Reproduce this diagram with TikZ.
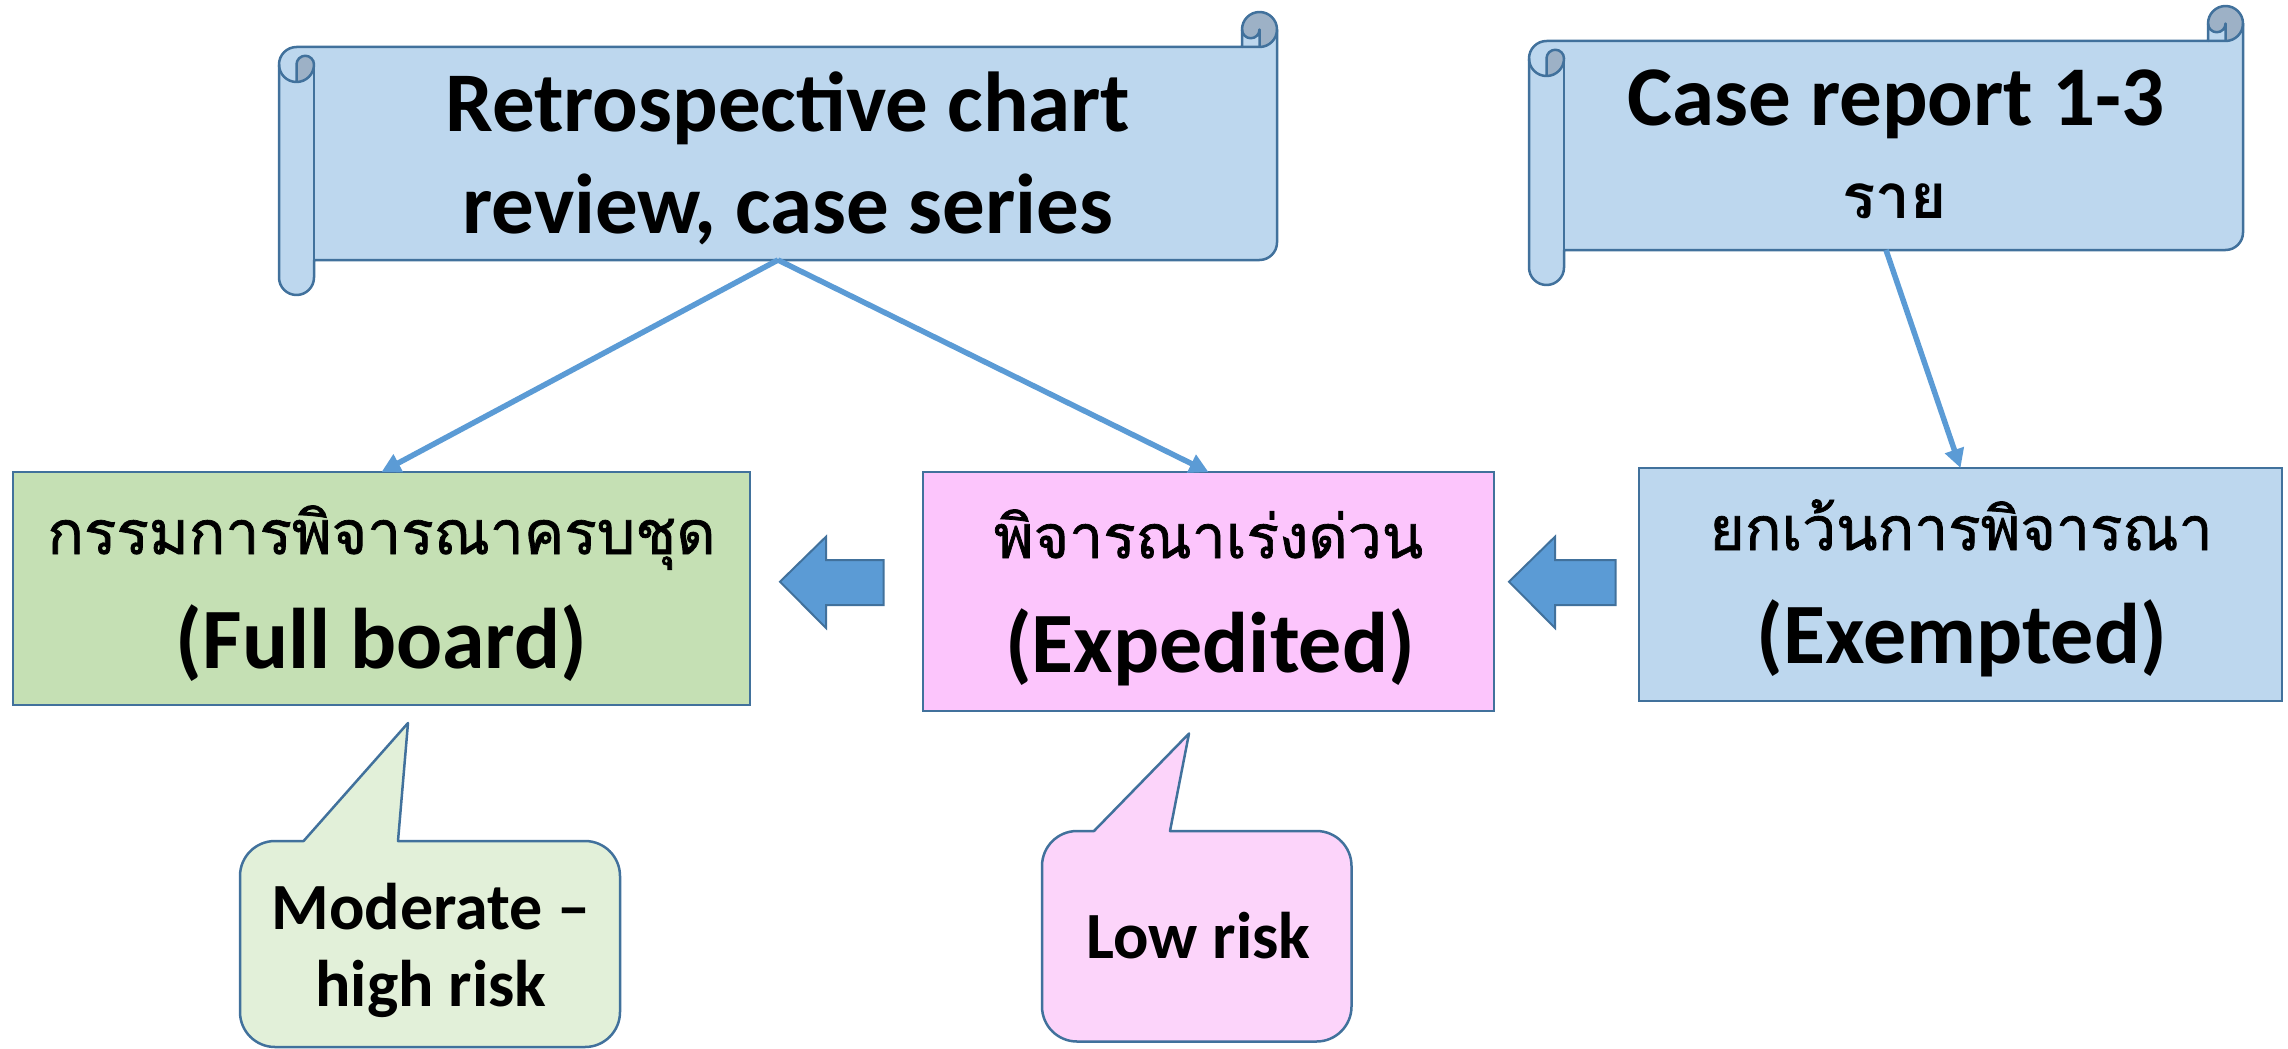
\documentclass[tikz,border=0pt]{standalone}
\usepackage{fontspec}
\setmainfont{Carlito}
\newfontfamily\thaifont[Script=Thai,FakeBold=1.2]{Loma}
\newfontfamily\thaibold[Script=Thai]{Loma}
\usetikzlibrary{arrows.meta}
\definecolor{bluefill}{HTML}{BDD7EE}
\definecolor{edgeblue}{HTML}{41719C}
\definecolor{accent}{HTML}{5B9BD5}
\definecolor{curldark}{HTML}{9DB1C6}
\definecolor{fbgreen}{HTML}{C5E0B4}
\definecolor{lightgreen}{HTML}{E2F0D9}
\definecolor{exppink}{HTML}{FCC5FC}
\definecolor{lightpink}{HTML}{FCD4FA}
\tikzset{
  scrfill/.style={fill=bluefill},
  scrdark/.style={fill=curldark},
  scredge/.style={draw=edgeblue,line width=2.5pt,line join=round},
  boxnode/.style={draw=edgeblue,line width=2.5pt,inner sep=0pt,outer sep=0pt,rectangle},
  hollow/.style={inner sep=0pt,outer sep=0pt,rectangle},
  conn/.style={draw=accent,line width=5.5pt,-{Triangle[length=19pt,width=19pt]}},
  barrow/.style={fill=accent,draw=edgeblue,line width=2pt,line join=miter},
  callout/.style={draw=edgeblue,line width=2.5pt,line join=round},
  big/.style={font=\bfseries\fontsize{85}{100}\selectfont,inner sep=0pt,anchor=base},
  mid/.style={font=\bfseries\fontsize{86}{100}\selectfont,inner sep=0pt,anchor=base},
  small/.style={font=\bfseries\fontsize{66}{80}\selectfont,inner sep=0pt,anchor=base},
  thaitxt/.style={font=\thaifont\fontsize{60.5}{80}\selectfont,inner sep=0pt,anchor=base},
}
\newcommand\drawscroll[4]{%
\begin{scope}[shift={(#1,#2)}]
\pgfmathsetmacro\scrW{#3-#1}
\pgfmathsetmacro\scrH{#4-#2}
\pgfmathsetmacro\scrXa{\scrW-35}
\pgfmathsetmacro\scrXb{\scrW-17.5}
\pgfmathsetmacro\scrYa{\scrH-35}
\pgfmathsetmacro\scrYb{\scrH-17.5}
\pgfmathsetmacro\scrYc{\scrH-52.5}
\fill[scrfill] (\scrW,17.5) arc[start angle=0,end angle=90,radius=17.5]
  -- (\scrXb,17.5) arc[start angle=0,end angle=180,radius=8.75]
  -- (\scrXa,35) -- (17.5,35) arc[start angle=270,end angle=180,radius=17.5]
  -- (0,\scrYb) arc[start angle=180,end angle=0,radius=17.5]
  -- (35,\scrYa) -- (\scrXb,\scrYa) arc[start angle=90,end angle=0,radius=17.5] -- cycle;
\fill[scrdark] (17.5,70) arc[start angle=90,end angle=0,radius=17.5]
  arc[start angle=0,end angle=-180,radius=8.75] -- cycle;
\fill[scrdark] (\scrXb,35) arc[start angle=90,end angle=-180,radius=17.5]
  arc[start angle=180,end angle=0,radius=8.75] -- cycle;
\draw[scredge] (0,52.5) arc[start angle=180,end angle=270,radius=17.5]
  -- (\scrXa,35) -- (\scrXa,17.5) arc[start angle=180,end angle=360,radius=17.5]
  -- (\scrW,\scrYc) arc[start angle=0,end angle=90,radius=17.5]
  -- (35,\scrYa) -- (35,\scrYb) arc[start angle=0,end angle=180,radius=17.5] -- cycle;
\draw[scredge] (\scrXa,35) -- (\scrXb,35) arc[start angle=90,end angle=0,radius=17.5];
\draw[scredge] (\scrXb,35) -- (\scrXb,17.5) arc[start angle=0,end angle=180,radius=8.75];
\draw[scredge] (17.5,70) -- (17.5,52.5) arc[start angle=180,end angle=360,radius=8.75]
  arc[start angle=0,end angle=180,radius=17.5];
\draw[scredge] (35,52.5) -- (35,\scrYa);
\end{scope}}
\begin{document}
\begin{tikzpicture}[x=1pt,y=1pt,yscale=-1]
\useasboundingbox (0,0) rectangle (2288,1049);
% scrolls
\drawscroll{279}{12}{1277}{295}
\drawscroll{1529}{6}{2243}{285}
\node[hollow,minimum width=998pt,minimum height=213pt] (s1) at (778,153.5) {};
\node[hollow,minimum width=714pt,minimum height=209pt] (s2) at (1886,145.5) {};
\node[big] (s1a) at (788,131.7) {Retrospective chart};
\node[big] (s1b) at (788,233) {review, case series};
\node[big] (s2a) at (1896,125) {Case report 1-3};
\node[inner sep=0pt,anchor=base,font=\thaibold\bfseries\fontsize{62}{80}\selectfont] (s2b) at (1894.5,218) {ราย};
% boxes
\node[boxnode,fill=fbgreen,minimum width=737pt,minimum height=233pt] (fb) at (381.5,588.5) {};
\node[boxnode,fill=exppink,minimum width=571pt,minimum height=239pt] (exp) at (1208.5,591.5) {};
\node[boxnode,fill=bluefill,minimum width=643pt,minimum height=233pt] (exe) at (1960.5,584.5) {};
\node[thaitxt] (fbt) at (381.5,554) {กรรมการพิจารณาครบชุด};
\node[mid] (fbe) at (381.5,668.5) {(Full board)};
\node[thaitxt] (expt) at (1208.5,558) {พิจารณาเร่งด่วน};
\node[mid] (expe) at (1210,672) {(Expedited)};
\node[thaitxt] (exet) at (1961,550) {ยกเว้นการพิจารณา};
\node[mid] (exee) at (1962,663) {(Exempted)};
% connectors
\draw[conn] (s1.south) -- (fb.north);
\draw[conn] (s1.south) -- (exp.north);
\draw[conn] (s2.south) -- (exe.north);
% block arrows
\draw[barrow] (780,581.7) -- (826,536.7) -- (826,560) -- (883.5,560) -- (883.5,605) -- (826,605) -- (826,628) -- cycle;
\draw[barrow] (1509,581.7) -- (1555,536.7) -- (1555,560) -- (1615.5,560) -- (1615.5,605) -- (1555,605) -- (1555,628) -- cycle;
% callouts
\draw[callout,fill=lightgreen] (303.6,841) -- (408,723) -- (398,841) -- (585,841)
  arc[start angle=-90,end angle=0,radius=35] -- (620,1012)
  arc[start angle=0,end angle=90,radius=35] -- (275,1047)
  arc[start angle=90,end angle=180,radius=35] -- (240,876)
  arc[start angle=180,end angle=270,radius=35] -- cycle;
\draw[callout,fill=lightpink] (1094,831) -- (1189,733.5) -- (1170,831) -- (1316.5,831)
  arc[start angle=-90,end angle=0,radius=35] -- (1351.5,1006.5)
  arc[start angle=0,end angle=90,radius=35] -- (1077,1041.5)
  arc[start angle=90,end angle=180,radius=35] -- (1042,866)
  arc[start angle=180,end angle=270,radius=35] -- cycle;
\node[small] (c1a) at (431,929.6) {Moderate –};
\node[small] (c1b) at (431,1006.6) {high risk};
\node[small] (c2a) at (1198.5,958) {Low risk};
\end{tikzpicture}
\end{document}
